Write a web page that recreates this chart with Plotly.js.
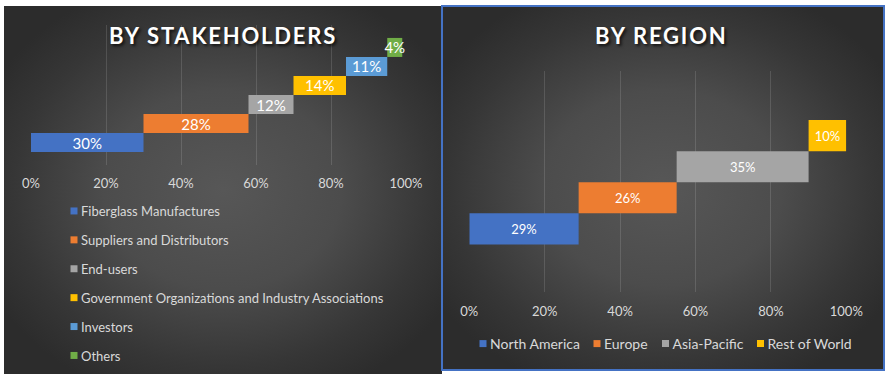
<!DOCTYPE html>
<html><head><meta charset="utf-8">
<script src="https://cdn.plot.ly/plotly-3.0.1.min.js"></script>
<style>
html,body{margin:0;padding:0;background:#ffffff;}
#wrap{position:relative;width:885px;height:374px;overflow:hidden;background:#ffffff;}
#pL{position:absolute;left:4px;top:6px;width:438px;height:368px;
  background:radial-gradient(ellipse 60% 60% at 50% 50%, #575757 0%, #4c4c4c 45%, #363636 80%, #2c2c2c 100%);}
#pR{position:absolute;left:441px;top:5px;width:444px;height:366px;box-sizing:border-box;border:2px solid #4472c4;
  background:radial-gradient(ellipse 60% 60% at 50% 50%, #575757 0%, #4c4c4c 45%, #363636 80%, #2c2c2c 100%);}
#chart{position:absolute;left:0;top:0;width:885px;height:374px;}
.annotation-text{letter-spacing:1.8px;}
</style>
</head><body>
<div id="wrap"><div id="pL"></div><div id="pR"></div><div id="chart"></div></div>
<script>
// ---- data ----
const stakeCategories = ["Fiberglass Manufactures","Suppliers and Distributors","End-users","Government Organizations and Industry Associations","Investors","Others"];
const stakeValues = [30, 28, 12, 14, 11, 4];
const stakeColors = ["#4472c4","#ed7d31","#a5a5a5","#ffc000","#5b9bd5","#70ad47"];

const regionCategories = ["North America","Europe","Asia-Pacific","Rest of World"];
const regionValues = [29, 26, 35, 10];
const regionColors = ["#4472c4","#ed7d31","#a5a5a5","#ffc000"];

const tickValues = [0, 0.2, 0.4, 0.6, 0.8, 1.0];
const tickLabels = ["0%","20%","40%","60%","80%","100%"];

const titleLeft = "BY STAKEHOLDERS";
const titleRight = "BY REGION";

// ---- build traces ----
const FONT = "Lato, 'Open Sans', sans-serif";
const traces = [];
function cumulative(vals){ const out=[]; let s=0; for(const v of vals){ out.push(s); s+=v; } return out; }

const sBase = cumulative(stakeValues);
stakeCategories.forEach((c,i)=>{
  traces.push({type:'bar', orientation:'h', y:[c], x:[stakeValues[i]/100], base:[sBase[i]/100],
    width:1, marker:{color:stakeColors[i], line:{width:0}}, text:[stakeValues[i]+'%'],
    textposition:'inside', insidetextanchor:'middle', textangle:0, constraintext:'none',
    insidetextfont:{color:'#ffffff', size:15, family:FONT}, cliponaxis:false,
    xaxis:'x', yaxis:'y', showlegend:false, hoverinfo:'skip'});
  traces.push({type:'scatter', mode:'markers', x:[null], y:[null], name:c, legendgroup:'s'+i,
    marker:{symbol:'square', size:7, color:stakeColors[i]}, xaxis:'x', yaxis:'y', legend:'legend', hoverinfo:'skip'});
});

const rBase = cumulative(regionValues);
regionCategories.forEach((c,i)=>{
  traces.push({type:'bar', orientation:'h', y:[c], x:[regionValues[i]/100], base:[rBase[i]/100],
    width:1, marker:{color:regionColors[i], line:{width:0}}, text:[regionValues[i]+'%'],
    textposition:'inside', insidetextanchor:'middle', textangle:0, constraintext:'none',
    insidetextfont:{color:'#ffffff', size:13, family:FONT}, cliponaxis:false,
    xaxis:'x2', yaxis:'y2', showlegend:false, hoverinfo:'skip'});
  traces.push({type:'scatter', mode:'markers', x:[null], y:[null], name:c,
    marker:{symbol:'square', size:7, color:regionColors[i]}, xaxis:'x2', yaxis:'y2', legend:'legend'+(i+2), hoverinfo:'skip'});
});

const W=885, H=374;
const px = v => v/W, py = v => 1 - v/H;

const axisCommon = {range:[0,1], tickvals:tickValues, ticktext:tickLabels, showgrid:true,
  gridcolor:'rgba(255,255,255,0.13)', gridwidth:1, zeroline:false, showline:false, ticks:'',
  tickfont:{family:FONT, size:13, color:'#d9d9d9'}, fixedrange:true, automargin:false};

const legendFont = {family:FONT, size:13, color:'#d9d9d9'};
const regionLegendX = [483, 597, 665.5, 760.5];

const layout = {
  width:W, height:H, margin:{l:0,r:0,t:0,b:0,pad:0,autoexpand:false},
  paper_bgcolor:'rgba(0,0,0,0)', plot_bgcolor:'rgba(0,0,0,0)',
  barmode:'overlay', showlegend:true,
  xaxis: Object.assign({}, axisCommon, {domain:[px(31), px(406)], anchor:'y', ticklabelstandoff:9}),
  yaxis: {domain:[py(165), py(25)], type:'category', categoryorder:'array', categoryarray:stakeCategories,
    range:[-1.18, 6.18], showticklabels:false, showgrid:false, zeroline:false, anchor:'x', fixedrange:true, automargin:false},
  xaxis2: Object.assign({}, axisCommon, {domain:[px(469.3), px(846.3)], anchor:'y2', ticklabelstandoff:10}),
  yaxis2: {domain:[py(292), py(71)], type:'category', categoryorder:'array', categoryarray:regionCategories,
    range:[-2.03, 5.08], showticklabels:false, showgrid:false, zeroline:false, anchor:'x2', fixedrange:true, automargin:false},
  legend: {x:px(54), y:py(196), xanchor:'left', yanchor:'top', orientation:'v', traceorder:'grouped',
    tracegroupgap:9, font:legendFont, bgcolor:'rgba(0,0,0,0)', itemclick:false, itemdoubleclick:false},
  annotations:[
    {text:titleLeft, x:px(223), y:py(36), xref:'paper', yref:'paper', showarrow:false, xanchor:'center', yanchor:'middle',
      font:{family:FONT, size:22, weight:700, color:'#ffffff', shadow:'2px 2px 3px rgba(0,0,0,0.7)'}},
    {text:titleRight, x:px(661), y:py(35), xref:'paper', yref:'paper', showarrow:false, xanchor:'center', yanchor:'middle',
      font:{family:FONT, size:22, weight:700, color:'#ffffff', shadow:'2px 2px 3px rgba(0,0,0,0.7)'}}
  ]
};
regionLegendX.forEach((lx,i)=>{
  layout['legend'+(i+2)] = {x:px(lx-20), y:py(344), xanchor:'left', yanchor:'middle', orientation:'h',
    font:{family:FONT, size:14, color:'#d9d9d9'}, bgcolor:'rgba(0,0,0,0)', itemclick:false, itemdoubleclick:false};
});

function shiftLegendText(){
  document.querySelectorAll('#chart .infolayer text').forEach(t=>{
    const cls = t.getAttribute('class') || '';
    if(/^legend\d*text$/.test(cls)){
      t.setAttribute('x', 27);
      t.querySelectorAll('tspan').forEach(s=>{ if(s.hasAttribute('x')) s.setAttribute('x', 27); });
    }
  });
}
const gd = document.getElementById('chart');
Plotly.newPlot(gd, traces, layout, {displayModeBar:false, staticPlot:true}).then(()=>{
  shiftLegendText();
  gd.on && gd.on('plotly_afterplot', shiftLegendText);
  setTimeout(shiftLegendText, 50);
  setTimeout(shiftLegendText, 300);
});
</script>
</body></html>
